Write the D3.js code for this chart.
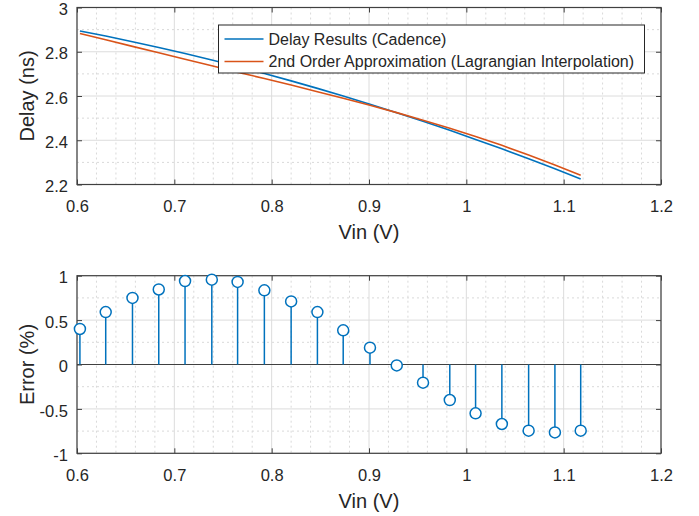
<!DOCTYPE html>
<html>
<head>
<meta charset="utf-8">
<script src="https://cdn.jsdelivr.net/npm/d3@7"></script>
<style>
  body { margin: 0; background: #fff; }
  svg text { font-family: "Liberation Sans", Arial, Helvetica, sans-serif; fill: #262626; }
</style>
</head>
<body>
<svg id="chart" width="699" height="516"></svg>
<script>
// Vin sample points (V)
const vin = [0.603, 0.6295, 0.657, 0.684, 0.711, 0.7385, 0.765, 0.7925, 0.82, 0.847,
             0.8735, 0.901, 0.9285, 0.9555, 0.983, 1.0095, 1.0365, 1.064, 1.091, 1.1175];
// Delay from Cadence (ns)
const delayCadence = [2.894, 2.8709, 2.8456, 2.8194, 2.7920, 2.7628, 2.7333, 2.7015, 2.6684, 2.6345,
                      2.6001, 2.5630, 2.5246, 2.4857, 2.4447, 2.4039, 2.3611, 2.3162, 2.2708, 2.2251];
// 2nd order Lagrangian approximation (ns)
const delayApprox = [2.8824, 2.8540, 2.8243, 2.7956, 2.7658, 2.7364, 2.7079, 2.6789, 2.6495, 2.6190,
                     2.5901, 2.5581, 2.5249, 2.4908, 2.4545, 2.4171, 2.3769, 2.3335, 2.2882, 2.2417];
// error (%)
const errorPct = [0.40, 0.59, 0.75, 0.845, 0.94, 0.955, 0.93, 0.835, 0.71, 0.59,
                  0.385, 0.19, -0.01, -0.205, -0.40, -0.55, -0.67, -0.745, -0.765, -0.745];

const xTicks = [0.6, 0.7, 0.8, 0.9, 1, 1.1, 1.2];
const delayTicks = [2.2, 2.4, 2.6, 2.8, 3];
const errorTicks = [-1, -0.5, 0, 0.5, 1];
const legendLabels = ['Delay Results (Cadence)', '2nd Order Approximation (Lagrangian Interpolation)'];

const blue = '#0072BD';
const orange = '#D95319';
const svg = d3.select('#chart');

// left/right are shared by both panels
const left = 77, right = 661;

function drawAxes(top, bottom, yDomain, yTicks, yMinorStep, yLabel) {
  const x = d3.scaleLinear().domain([0.6, 1.2]).range([left, right]);
  const y = d3.scaleLinear().domain(yDomain).range([bottom, top]);
  const g = svg.append('g');

  g.append('rect').attr('x', left).attr('y', top)
    .attr('width', right - left).attr('height', bottom - top).attr('fill', '#fff');

  // minor grid (dotted)
  const xMinor = d3.range(0.62, 1.2, 0.02).filter(v => Math.abs(v * 10 - Math.round(v * 10)) > 1e-6);
  const yMinor = d3.range(yDomain[0] + yMinorStep, yDomain[1], yMinorStep)
    .filter(v => !yTicks.some(t => Math.abs(t - v) < 1e-6));
  g.selectAll('line.xminor').data(xMinor).enter().append('line')
    .attr('x1', d => x(d)).attr('x2', d => x(d)).attr('y1', top).attr('y2', bottom)
    .attr('stroke', '#d9d9d9').attr('stroke-dasharray', '2,3');
  g.selectAll('line.yminor').data(yMinor).enter().append('line')
    .attr('y1', d => y(d)).attr('y2', d => y(d)).attr('x1', left).attr('x2', right)
    .attr('stroke', '#d9d9d9').attr('stroke-dasharray', '2,3');

  // major grid
  g.selectAll('line.xgrid').data(xTicks).enter().append('line')
    .attr('x1', d => x(d)).attr('x2', d => x(d)).attr('y1', top).attr('y2', bottom)
    .attr('stroke', '#dcdcdc');
  g.selectAll('line.ygrid').data(yTicks).enter().append('line')
    .attr('y1', d => y(d)).attr('y2', d => y(d)).attr('x1', left).attr('x2', right)
    .attr('stroke', '#dcdcdc');

  // axes with inward ticks, on all four sides
  const fmt = d => String(d);
  g.append('g').attr('transform', `translate(0,${bottom})`)
    .call(d3.axisBottom(x).tickValues(xTicks).tickFormat(fmt).tickSizeInner(-5).tickSizeOuter(0).tickPadding(16));
  g.append('g').attr('transform', `translate(0,${top})`)
    .call(d3.axisTop(x).tickValues(xTicks).tickFormat('').tickSizeInner(-5).tickSizeOuter(0));
  g.append('g').attr('class', 'yaxis').attr('transform', `translate(${left},0)`)
    .call(d3.axisLeft(y).tickValues(yTicks).tickFormat(fmt).tickSizeInner(-5).tickSizeOuter(0).tickPadding(9));
  g.append('g').attr('transform', `translate(${right},0)`)
    .call(d3.axisRight(y).tickValues(yTicks).tickFormat('').tickSizeInner(-5).tickSizeOuter(0));

  g.selectAll('.domain').remove();
  g.selectAll('.tick line').attr('stroke', '#404040');
  g.selectAll('.tick text').attr('font-size', '16.5px').attr('fill', '#404040')
    .attr('font-family', '"Liberation Sans", Arial, sans-serif');
  g.selectAll('.yaxis .tick text').attr('dy', '0.43em');

  g.append('rect').attr('x', left).attr('y', top)
    .attr('width', right - left).attr('height', bottom - top)
    .attr('fill', 'none').attr('stroke', '#404040').attr('stroke-width', 1.2);

  g.append('text').attr('x', (left + right) / 2).attr('y', bottom + 54.5)
    .attr('text-anchor', 'middle').attr('font-size', '20px').attr('fill', '#404040').text('Vin (V)');
  g.append('text')
    .attr('transform', `translate(34,${(top + bottom) / 2}) rotate(-90)`)
    .attr('text-anchor', 'middle').attr('font-size', '20px').attr('fill', '#404040').text(yLabel);

  return { x, y, g };
}

// ---------- top panel: delay
const p1 = drawAxes(7.5, 184.5, [2.2, 3], delayTicks, 0.1, 'Delay (ns)');
const line = d3.line().x((d, i) => p1.x(vin[i])).y(d => p1.y(d));
p1.g.append('path').datum(delayCadence).attr('d', line)
  .attr('fill', 'none').attr('stroke', blue).attr('stroke-width', 1.6);
p1.g.append('path').datum(delayApprox).attr('d', line)
  .attr('fill', 'none').attr('stroke', orange).attr('stroke-width', 1.6);

// legend
const lg = p1.g.append('g').attr('transform', 'translate(218.5,25)');
lg.append('rect').attr('width', 426).attr('height', 48)
  .attr('fill', '#fff').attr('stroke', '#262626').attr('stroke-width', 1);
[blue, orange].forEach((c, i) => {
  const yy = 14 + i * 22.5;
  lg.append('line').attr('x1', 6).attr('x2', 45).attr('y1', yy).attr('y2', yy)
    .attr('stroke', c).attr('stroke-width', 1.6);
  lg.append('text').attr('x', 50).attr('y', yy + 5.5).attr('font-size', '16px')
    .attr('fill', '#262626').text(legendLabels[i]);
});

// ---------- bottom panel: error stems
const p2 = drawAxes(275.7, 453.3, [-1, 1], errorTicks, 0.25, 'Error (%)');
p2.g.append('line').attr('x1', left).attr('x2', right)
  .attr('y1', p2.y(0)).attr('y2', p2.y(0)).attr('stroke', '#404040').attr('stroke-width', 1.2);
p2.g.selectAll('line.stem').data(errorPct).enter().append('line')
  .attr('x1', (d, i) => p2.x(vin[i])).attr('x2', (d, i) => p2.x(vin[i]))
  .attr('y1', p2.y(0)).attr('y2', d => p2.y(d))
  .attr('stroke', blue).attr('stroke-width', 1.5);
p2.g.selectAll('circle.stem').data(errorPct).enter().append('circle')
  .attr('cx', (d, i) => p2.x(vin[i])).attr('cy', d => p2.y(d)).attr('r', 5.5)
  .attr('fill', '#fff').attr('stroke', blue).attr('stroke-width', 1.5);
</script>
</body>
</html>
